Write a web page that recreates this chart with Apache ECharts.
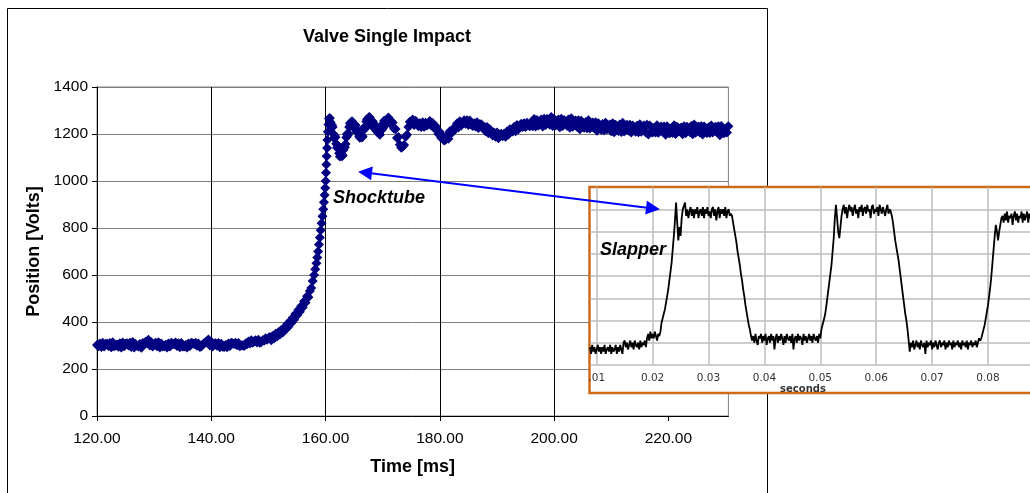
<!DOCTYPE html>
<html><head><meta charset="utf-8">
<script src="https://cdn.jsdelivr.net/npm/echarts@6/dist/echarts.min.js"></script>
<style>html,body{margin:0;padding:0;background:#fff}#c{width:1030px;height:493px}</style>
</head><body><div id="c"></div>
<script>
// ---------- Main chart: Valve Single Impact (Time [ms] vs Position [Volts]) ----------
// Flat segment: samples every 0.5 ms from 120 ms, plus the in-between samples from 120.25 ms
const flatStartT = 120, flatMidStartT = 120.25, flatStepT = 0.5;
const flatV = [
302,308,312,306,298,293,297,304,310,313,
307,300,294,292,299,306,311,316,324,314,
305,297,292,296,303,309,312,305,298,293,
296,302,308,312,306,299,294,304,314,326,
316,307,299,293,295,302,308,312,306,301,
297,301,309,317,322,318,313,312,322,331,
332];
const flatMidV = [
297,294,296,309,311,314,300,295,291,297,
310,312,315,306,296,290,306,310,300,296,
312,314,309,297,292,296,309,313,310,311,
296,292,298,310,312,308,296,310,318,300,
296,310,311,307,294,293,298,310,312,311,
300,298,305,309,312,322,325,315,320,324];
// Rise segment (explicit times)
const riseT = [150.25,150.5,150.75,151,151.25,151.5,151.75,152,152.25,152.5,152.75,153,153.25,153.5,153.75,154,154.25,154.5,154.75,155,155.25,155.5,155.75,156,156.25,156.5,156.75,157,157.25,157.5,157.75,
158,158.2,158.4,158.55,158.7,158.85,159,159.15,159.3,159.45,159.6,159.72,159.84,159.95,160.02,160.08,160.14,160.2,160.26,160.32,160.4,160.5,160.6];
const riseV = [336,322,340,331,350,338,356,347,366,355,375,368,390,380,403,396,418,410,435,428,452,444,468,462,488,482,510,505,532,545,575,
600,625,650,675,700,730,760,790,820,850,880,910,940,970,1000,1035,1070,1105,1140,1175,1210,1240,1265];
// Ringing segment: samples every 0.25 ms from 160.75 ms, plus in-between samples from 160.875 ms
const ringStartT = 160.75, ringMidStartT = 160.875, ringStepT = 0.25;
const ringV = [
1268,1232,1230,1182,1186,1142,1143,1104,1116,1110,
1143,1157,1200,1202,1246,1242,1250,1228,1236,1207,
1208,1184,1193,1190,1228,1230,1263,1258,1270,1242,
1253,1224,1236,1210,1220,1197,1224,1224,1256];
const ringMidV = [
1250,1238,1200,1192,1158,1150,1118,1118,1105,1132,
1144,1185,1194,1230,1236,1254,1231,1240,1214,1215,
1190,1196,1185,1216,1222,1253,1254,1272,1250,1255,
1232,1238,1217,1222,1202,1218,1218,1246];
// Settling segment: samples every 0.5 ms from 170.5 ms, plus in-between samples from 170.75 ms
const settleStartT = 170.5, settleMidStartT = 170.75, settleStepT = 0.5;
const settleV = [
1256,1270,1254,1222,1183,1154,1146,1188,1230,1247,
1238,1241,1246,1250,1248,1246,1236,1226,1219,1208,
1190,1176,1180,1204,1227,1245,1254,1250,1244,1238,
1240,1246,1250,1242,1226,1212,1203,1204,1206,1206,
1198,1190,1188,1198,1216,1230,1238,1235,1230,1230,
1238,1250,1264,1260,1244,1232,1238,1254,1272,1264,
1246,1229,1234,1249,1262,1267,1250,1231,1220,1233,
1250,1258,1244,1225,1214,1226,1243,1248,1231,1212,
1207,1223,1240,1248,1233,1215,1206,1218,1235,1242,
1226,1207,1198,1210,1227,1237,1228,1210,1197,1205,
1223,1237,1231,1213,1199,1203,1222,1234,1240,1222,
1206,1198,1210,1228,1236,1223,1207,1195,1205,1223,
1233];
const settleMidV = [
1245,1246,1249,1221,1187,1141,1153,1197,1252,1262,
1256,1233,1230,1231,1236,1255,1247,1234,1200,1183,
1172,1194,1212,1208,1224,1228,1236,1258,1259,1257,
1234,1232,1226,1241,1231,1230,1220,1194,1188,1182,
1201,1201,1211,1220,1211,1212,1220,1244,1246,1248,
1233,1233,1232,1236,1262,1265,1264,1239,1234,1236,
1262,1265,1260,1235,1227,1231,1257,1259,1256,1227,
1224,1223,1249,1250,1246,1218,1216,1220,1240,1246,
1239,1213,1208,1211,1239,1239,1236,1210,1207,1210,
1236,1239,1236,1206,1206,1205,1232,1232,1233,1203,
1204,1200,1226,1228,1233,1231,1208,1199,1205,1232,
1234,1232,1204,1204,1206,1231,1233,1234,1203,1206];
const xTicks = [120,140,160,180,200,220];

// ---------- Inset: Slapper trace (seconds) ----------
const insetStartT = 0.0088, insetStepT = 0.0002;
const insetLow1 = [8,5,9,6,8,5,7,9,6,8,5,8,6,9,5,7,8,6,9,5,8,6,7,9,5,8,6,9,7,5,
10,11,8,10,7,9,11,8,10,7,11,9,8,10,7,11,8,10,9,11,8];
const insetStep1 = [12,14,11,15,12,14,12,15,13,11,14,13,15];
const insetRise1 = [19,21,23,25,28,31,34,38,42,46,52,58,65,73,64,56,62,58,66,70];
const insetHigh1 = [70,73,67,70,66,69,71,67,70,66,70,68,71,66,69,70,67,71,66,70,
68,71,67,69,66,70,71,67,70,65,69,71,66,70,68,70,67,71,66,69,70,67,68];
const insetFall1 = [67,64,61,58,55,51,48,45,41,38,34,31,27,24,21,18,16,13,11];
const insetLow2 = [13,10,14,11,9,13,12,14,10,13,11,14,9,12,13,10,14,11,13,7,
12,14,10,13,11,14,12,9,13,10,14,12,11,13,10,14,7,12,13,10,
14,11,13,12,9,14,11,13,10,12,14,11,13,10,14,12,11,13,10,14,12];
const insetRise2 = [16,18,20,22,25,29,33,37,41,45,51,57,66,72,66,60,57,62,67];
const insetHigh2 = [70,72,68,71,66,70,72,69,71,67,70,72,68,70,66,71,69,72,67,70,
71,68,72,69,70,66,71,72,68,70,69,71,67,72,70,68,71,69,67,70,72,68,70,69];
const insetFall2 = [67,64,60,56,53,50,47,43,39,35,31,27,23,20,16,11,6];
const insetLow3 = [10,8,11,7,9,11,8,10,7,11,9,8,10,5,11,8,10,9,11,7,
10,8,11,9,7,10,11,8,10,9,11,7,10,8,11,9,10,7,11,8,
10,9,11,8,10,7,11,9,10,8,11,7,10,9,11,8,10,9,11,8,10,12,11];
const insetRise3 = [12,14,16,18,21,24,27,31,35,40,46,52,58,63,60,56,60,63,66];
const insetHigh3 = [67,64,68,65,69,64,67,66,68,63,67,69,65,68,64,67,66,69,64,68,65,67,69,64,68,66];

// Annotation arrow (data coordinates of the two arrowhead centres on the main chart)
const arrowFrom = [166.9, 1036];
const arrowTo = [217.3, 883];

// ---------- build ----------
const mainData = [];
const addRegular = (arr, t0, dt) => arr.forEach((v, i) => mainData.push([t0 + i * dt, v]));
addRegular(flatV, flatStartT, flatStepT);
addRegular(flatMidV, flatMidStartT, flatStepT);
riseT.forEach((t, i) => mainData.push([t, riseV[i]]));
addRegular(ringV, ringStartT, ringStepT);
addRegular(ringMidV, ringMidStartT, ringStepT);
addRegular(settleV, settleStartT, settleStepT);
addRegular(settleMidV, settleMidStartT, settleStepT);
mainData.sort((a, b) => a[0] - b[0]);

const insetV = [].concat(insetLow1, insetStep1, insetRise1, insetHigh1, insetFall1,
  insetLow2, insetRise2, insetHigh2, insetFall2, insetLow3, insetRise3, insetHigh3);
const insetData = insetV.map((v, i) => [insetStartT + i * insetStepT, v]);

const F = '"Liberation Sans", Arial, sans-serif';
const FD = '"DejaVu Sans", Verdana, sans-serif';
const insetPxPerSec = 5590, insetWidth = 440;

const chart = echarts.init(document.getElementById('c'), null, {renderer: 'canvas'});
chart.setOption({
  animation: false,
  backgroundColor: '#fff',
  grid: [
    {left: 97, top: 87, width: 631.4, height: 329, show: true, borderColor: '#808080', borderWidth: 1, backgroundColor: 'transparent', containLabel: false},
    {left: 590, top: 187, width: insetWidth, height: 178, show: false, z: 10, containLabel: false}
  ],
  xAxis: [
    {
      gridIndex: 0, type: 'value', min: 120, max: 230.5, interval: 20,
      axisLine: {show: true, onZero: false, lineStyle: {color: '#000', width: 1}},
      axisTick: {show: true, length: 5, customValues: xTicks, lineStyle: {color: '#000'}},
      axisLabel: {customValues: xTicks, formatter: v => v.toFixed(2), fontSize: 15.5, fontFamily: F, color: '#000', margin: 15},
      splitLine: {show: true, showMaxLine: false, lineStyle: {color: '#000', width: 1}},
      name: 'Time [ms]', nameLocation: 'middle', nameGap: 42,
      nameTextStyle: {fontWeight: 'bold', fontSize: 18, fontFamily: F, color: '#000'}
    },
    {
      gridIndex: 1, type: 'value', min: insetStartT, max: insetStartT + insetWidth / insetPxPerSec,
      splitNumber: 8, minInterval: 0.01, maxInterval: 0.01, z: 11,
      axisLine: {show: false}, axisTick: {show: false},
      axisLabel: {showMinLabel: false, showMaxLabel: false, fontFamily: FD, fontSize: 10.5, color: '#333', margin: 8,
        formatter: v => Math.abs(v - 0.01) < 1e-9 ? '.01' : v.toFixed(2)},
      splitLine: {show: true, showMinLine: false, showMaxLine: false, lineStyle: {color: '#bdbdbd', width: 1.5}},
      name: 'seconds', nameLocation: 'middle', nameGap: 17,
      nameTextStyle: {fontFamily: FD, fontWeight: 'bold', fontSize: 10, color: '#333', padding: [0, 14, 0, 0]}
    }
  ],
  yAxis: [
    {
      gridIndex: 0, type: 'value', min: 0, max: 1400, interval: 200,
      axisLine: {show: true, lineStyle: {color: '#000', width: 1}},
      axisTick: {show: true, length: 5, lineStyle: {color: '#000'}},
      axisLabel: {fontSize: 15.5, fontFamily: F, color: '#000', margin: 9, formatter: v => String(v)},
      splitLine: {show: true, lineStyle: {color: '#808080', width: 1}},
      name: 'Position [Volts]', nameLocation: 'middle', nameGap: 53, nameRotate: 90,
      nameTextStyle: {fontWeight: 'bold', fontSize: 18, fontFamily: F, color: '#000'}
    },
    {
      gridIndex: 1, type: 'value', min: 0, max: 80, interval: 10, z: 11,
      axisLine: {show: false}, axisTick: {show: false}, axisLabel: {show: false},
      splitLine: {show: true, showMaxLine: false, lineStyle: {color: '#bdbdbd', width: 1.5}}
    }
  ],
  series: [
    {
      type: 'scatter', xAxisIndex: 0, yAxisIndex: 0, data: mainData,
      symbol: 'diamond', symbolSize: 10, itemStyle: {color: '#000080', opacity: 1},
      markLine: {
        silent: true, z: 30, symbol: ['triangle', 'triangle'], symbolSize: 14,
        lineStyle: {color: '#0000ff', width: 2, type: 'solid'}, label: {show: false},
        emphasis: {disabled: true},
        data: [[{coord: arrowFrom}, {coord: arrowTo}]]
      }
    },
    {
      type: 'line', xAxisIndex: 1, yAxisIndex: 1, data: insetData, z: 12,
      symbol: 'none', showSymbol: false, lineStyle: {color: '#000', width: 1.8}
    }
  ],
  graphic: {elements: [
    {type: 'rect', z: 1, silent: true, shape: {x: 7.5, y: 8.5, width: 760, height: 500},
      style: {fill: 'none', stroke: '#000', lineWidth: 1}},
    {type: 'rect', z: 9, silent: true, shape: {x: 589.5, y: 187, width: 480, height: 206},
      style: {fill: '#fff', stroke: '#cc6a1a', lineWidth: 2.5}},
    {type: 'text', z: 30, silent: true, style: {text: 'Valve Single Impact', x: 387, y: 37,
      font: 'bold 18px ' + F, fill: '#000', textAlign: 'center', textVerticalAlign: 'middle', align: 'center', verticalAlign: 'middle'}},
    {type: 'text', z: 30, silent: true, style: {text: 'Shocktube', x: 333, y: 198,
      font: 'italic bold 18px ' + F, fill: '#000', textAlign: 'left', textVerticalAlign: 'middle', align: 'left', verticalAlign: 'middle'}},
    {type: 'text', z: 30, silent: true, style: {text: 'Slapper', x: 600, y: 250,
      font: 'italic bold 18px ' + F, fill: '#000', textAlign: 'left', textVerticalAlign: 'middle', align: 'left', verticalAlign: 'middle'}}
  ]}
});
</script>
</body></html>
